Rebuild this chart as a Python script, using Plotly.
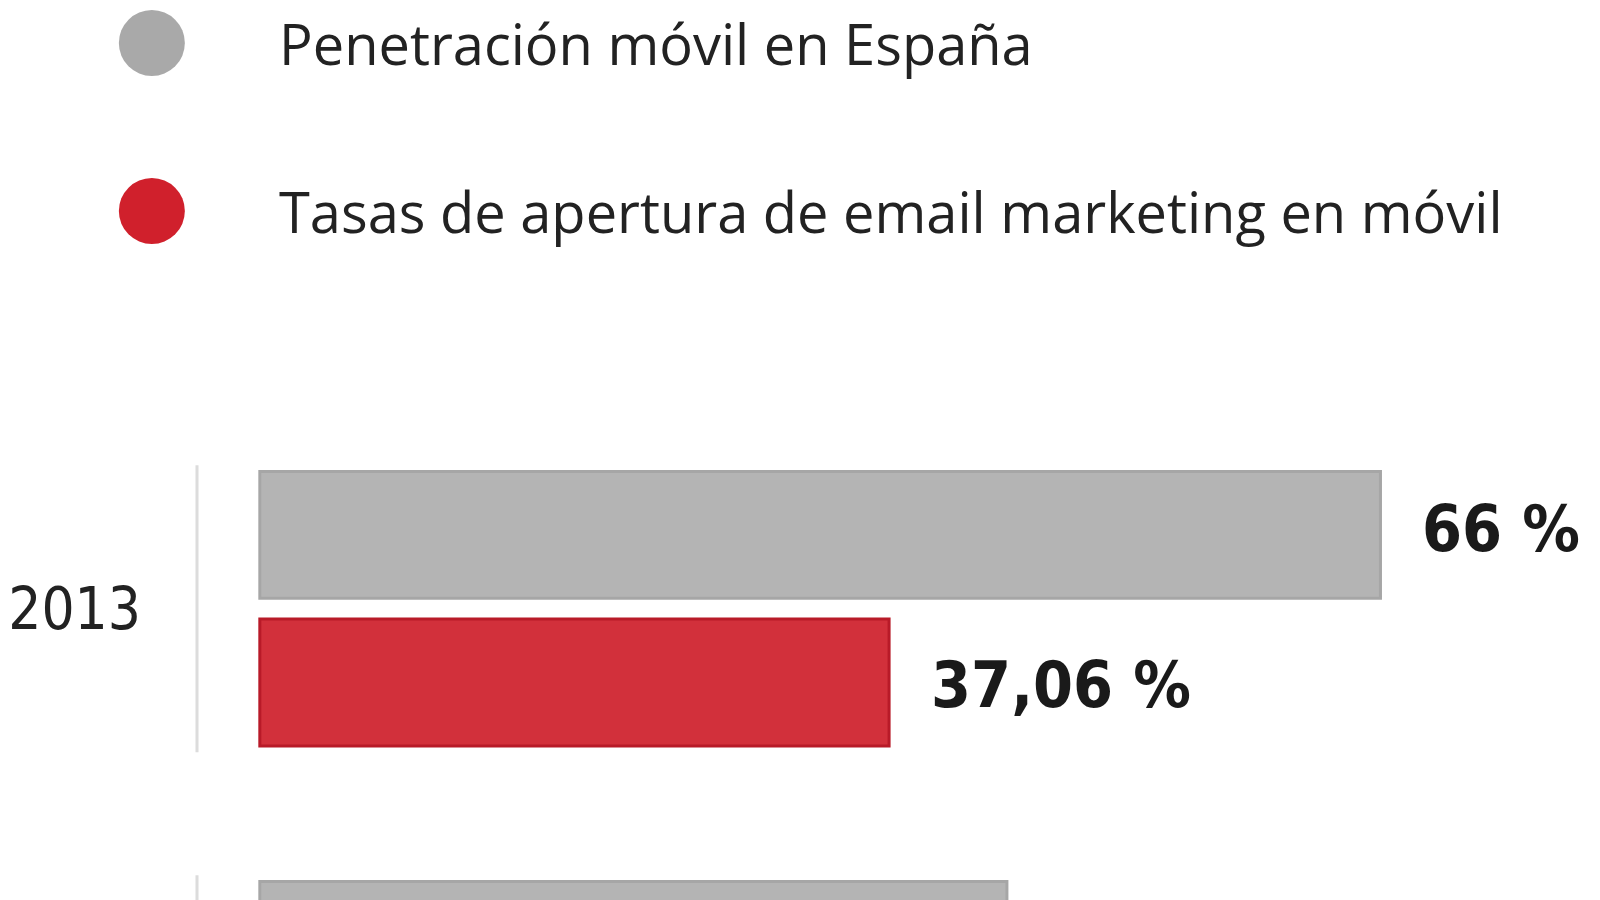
import plotly.graph_objects as go

years = ["2013", "2012"]
penetracion = [66, 44]
apertura = [37.06, 24]
labels_pen = ["66 %", "44 %"]
labels_ap = ["37,06 %", "24 %"]

gray = "#b4b4b4"
red = "#d2303b"
cond = "DejaVu Sans Condensed, Liberation Sans Narrow, sans-serif"

fig = go.Figure()
fig.add_trace(go.Bar(y=years, x=penetracion, orientation="h", name="Penetración móvil en España",
                     marker=dict(color=gray, line=dict(color="#a6a6a6", width=3)), showlegend=False))
fig.add_trace(go.Bar(y=years, x=apertura, orientation="h", name="Tasas de apertura de email marketing en móvil",
                     marker=dict(color=red, line=dict(color="#b81a28", width=3)), showlegend=False))

# value labels next to each bar
for i, y in enumerate(years):
    fig.add_annotation(x=penetracion[i], y=i, yshift=80, xshift=40, text="<b>" + labels_pen[i] + "</b>",
                       showarrow=False, xanchor="left", font=dict(family=cond, size=64, color="#1a1a1a"))
    fig.add_annotation(x=apertura[i], y=i, yshift=-76, xshift=40, text="<b>" + labels_ap[i] + "</b>",
                       showarrow=False, xanchor="left", font=dict(family=cond, size=64, color="#1a1a1a"))
    fig.add_shape(type="line", xref="paper", x0=0, x1=0, yref="y", y0=i - 0.35, y1=i + 0.35,
                  line=dict(color="#dcdcdc", width=3))

# legend drawn manually
legend = [("Penetración móvil en España", "#a9a9a9", 35), ("Tasas de apertura de email marketing en móvil", "#d0202c", 203)]
for text, col, ypx in legend:
    yp = 1 - ypx / 900
    fig.add_shape(type="circle", xref="paper", yref="paper", xsizemode="pixel", ysizemode="pixel",
                  xanchor=-0.032, yanchor=yp, x0=-33, x1=33, y0=-33, y1=33, fillcolor=col, line=dict(width=0))
    fig.add_annotation(xref="paper", yref="paper", x=0.057, y=yp, yanchor="middle", text=text, showarrow=False,
                       xanchor="left", font=dict(family="Open Sans, Lato, sans-serif", size=56, color="#222"))

fig.update_layout(
    width=1600, height=900, margin=dict(l=171, r=0, t=0, b=0),
    paper_bgcolor="white", plot_bgcolor="white",
    barmode="group", bargap=0.28, bargroupgap=0.14,
    xaxis=dict(range=[-3.7, 79.4], visible=False),
    yaxis=dict(type="category", categoryarray=years, range=[0.73, -1.465], showgrid=False,
               ticks="", ticklabelstandoff=55,
               tickfont=dict(family=cond, size=58, color="#222")),
)
fig.write_html("out.html")
